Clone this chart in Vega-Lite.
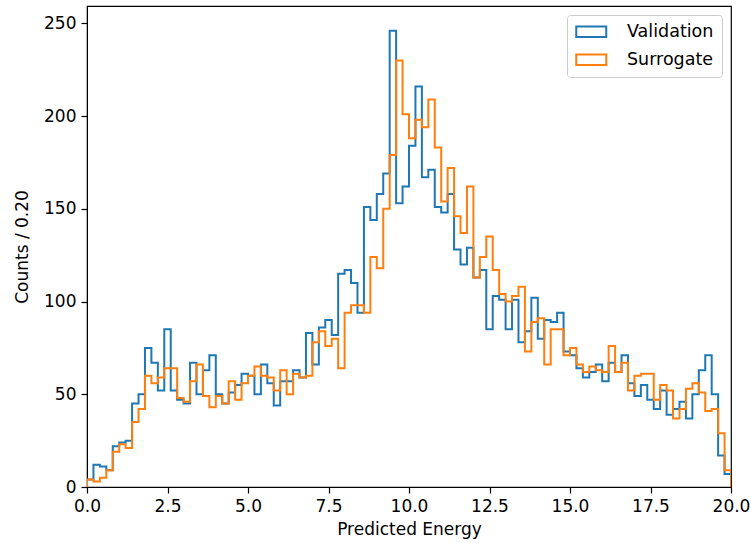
{
  "$schema": "https://vega.github.io/schema/vega-lite/v6.json",
  "autosize": {"type": "none"},
  "width": 644,
  "height": 481,
  "padding": {"left": 87, "top": 6, "right": 20, "bottom": 56},
  "background": "white",
  "config": {
    "font": "DejaVu Sans",
    "view": {"stroke": "black", "strokeWidth": 1.2},
    "axis": {
      "labelFont": "DejaVu Sans",
      "titleFont": "DejaVu Sans",
      "labelFontSize": 17,
      "titleFontSize": 17,
      "titleFontWeight": "normal",
      "labelColor": "black",
      "titleColor": "black",
      "tickColor": "black",
      "domainColor": "black",
      "tickSize": 6,
      "tickWidth": 1.2,
      "labelPadding": 5,
      "labelFlush": false,
      "grid": false
    },
    "legend": {
      "labelFont": "DejaVu Sans",
      "labelFontSize": 17.5
    }
  },
  "data": {
    "values": [
      {"series":"Validation","edge":0,"count":0},
      {"series":"Validation","edge":0.2,"count":4},{"series":"Validation","edge":0.4,"count":12},{"series":"Validation","edge":0.6,"count":11},{"series":"Validation","edge":0.8,"count":9},{"series":"Validation","edge":1,"count":22},{"series":"Validation","edge":1.2,"count":24},{"series":"Validation","edge":1.4,"count":25},{"series":"Validation","edge":1.6,"count":45},{"series":"Validation","edge":1.8,"count":50},{"series":"Validation","edge":2,"count":75},
      {"series":"Validation","edge":2.2,"count":67},{"series":"Validation","edge":2.4,"count":52},{"series":"Validation","edge":2.6,"count":85},{"series":"Validation","edge":2.8,"count":52},{"series":"Validation","edge":3,"count":47},{"series":"Validation","edge":3.2,"count":45},{"series":"Validation","edge":3.4,"count":67},{"series":"Validation","edge":3.6,"count":50},{"series":"Validation","edge":3.8,"count":63},{"series":"Validation","edge":4,"count":71},
      {"series":"Validation","edge":4.2,"count":50},{"series":"Validation","edge":4.4,"count":45},{"series":"Validation","edge":4.6,"count":51},{"series":"Validation","edge":4.8,"count":55},{"series":"Validation","edge":5,"count":61},{"series":"Validation","edge":5.2,"count":60},{"series":"Validation","edge":5.4,"count":50},{"series":"Validation","edge":5.6,"count":66},{"series":"Validation","edge":5.8,"count":56},{"series":"Validation","edge":6,"count":44},
      {"series":"Validation","edge":6.2,"count":57},{"series":"Validation","edge":6.4,"count":57},{"series":"Validation","edge":6.6,"count":63},{"series":"Validation","edge":6.8,"count":59},{"series":"Validation","edge":7,"count":83},{"series":"Validation","edge":7.2,"count":66},{"series":"Validation","edge":7.4,"count":86},{"series":"Validation","edge":7.6,"count":90},{"series":"Validation","edge":7.8,"count":82},{"series":"Validation","edge":8,"count":115},
      {"series":"Validation","edge":8.2,"count":117},{"series":"Validation","edge":8.4,"count":110},{"series":"Validation","edge":8.6,"count":94},{"series":"Validation","edge":8.8,"count":151},{"series":"Validation","edge":9,"count":144},{"series":"Validation","edge":9.2,"count":158},{"series":"Validation","edge":9.4,"count":169},{"series":"Validation","edge":9.6,"count":246},{"series":"Validation","edge":9.8,"count":153},{"series":"Validation","edge":10,"count":162},
      {"series":"Validation","edge":10.2,"count":184},{"series":"Validation","edge":10.4,"count":216},{"series":"Validation","edge":10.6,"count":167},{"series":"Validation","edge":10.8,"count":171},{"series":"Validation","edge":11,"count":151},{"series":"Validation","edge":11.2,"count":148},{"series":"Validation","edge":11.4,"count":158},{"series":"Validation","edge":11.6,"count":128},{"series":"Validation","edge":11.8,"count":120},{"series":"Validation","edge":12,"count":129},
      {"series":"Validation","edge":12.2,"count":113},{"series":"Validation","edge":12.4,"count":117},{"series":"Validation","edge":12.6,"count":85},{"series":"Validation","edge":12.8,"count":103},{"series":"Validation","edge":13,"count":101},{"series":"Validation","edge":13.2,"count":85},{"series":"Validation","edge":13.4,"count":101},{"series":"Validation","edge":13.6,"count":78},{"series":"Validation","edge":13.8,"count":84},{"series":"Validation","edge":14,"count":102},
      {"series":"Validation","edge":14.2,"count":80},{"series":"Validation","edge":14.4,"count":90},{"series":"Validation","edge":14.6,"count":89},{"series":"Validation","edge":14.8,"count":94},{"series":"Validation","edge":15,"count":73},{"series":"Validation","edge":15.2,"count":71},{"series":"Validation","edge":15.4,"count":64},{"series":"Validation","edge":15.6,"count":59},{"series":"Validation","edge":15.8,"count":62},{"series":"Validation","edge":16,"count":66},
      {"series":"Validation","edge":16.2,"count":57},{"series":"Validation","edge":16.4,"count":67},{"series":"Validation","edge":16.6,"count":62},{"series":"Validation","edge":16.8,"count":71},{"series":"Validation","edge":17,"count":56},{"series":"Validation","edge":17.2,"count":49},{"series":"Validation","edge":17.4,"count":55},{"series":"Validation","edge":17.6,"count":47},{"series":"Validation","edge":17.8,"count":42},{"series":"Validation","edge":18,"count":52},
      {"series":"Validation","edge":18.2,"count":39},{"series":"Validation","edge":18.4,"count":42},{"series":"Validation","edge":18.6,"count":46},{"series":"Validation","edge":18.8,"count":37},{"series":"Validation","edge":19,"count":50},{"series":"Validation","edge":19.2,"count":63},{"series":"Validation","edge":19.4,"count":71},{"series":"Validation","edge":19.6,"count":50},{"series":"Validation","edge":19.8,"count":17},{"series":"Validation","edge":20,"count":7},
      {"series":"Validation","edge":20,"count":0},
      {"series":"Surrogate","edge":0,"count":0},
      {"series":"Surrogate","edge":0.2,"count":4},{"series":"Surrogate","edge":0.4,"count":3},{"series":"Surrogate","edge":0.6,"count":5},{"series":"Surrogate","edge":0.8,"count":9},{"series":"Surrogate","edge":1,"count":19},{"series":"Surrogate","edge":1.2,"count":23},{"series":"Surrogate","edge":1.4,"count":21},{"series":"Surrogate","edge":1.6,"count":35},{"series":"Surrogate","edge":1.8,"count":42},{"series":"Surrogate","edge":2,"count":60},
      {"series":"Surrogate","edge":2.2,"count":56},{"series":"Surrogate","edge":2.4,"count":59},{"series":"Surrogate","edge":2.6,"count":64},{"series":"Surrogate","edge":2.8,"count":64},{"series":"Surrogate","edge":3,"count":48},{"series":"Surrogate","edge":3.2,"count":46},{"series":"Surrogate","edge":3.4,"count":57},{"series":"Surrogate","edge":3.6,"count":66},{"series":"Surrogate","edge":3.8,"count":49},{"series":"Surrogate","edge":4,"count":43},
      {"series":"Surrogate","edge":4.2,"count":49},{"series":"Surrogate","edge":4.4,"count":45},{"series":"Surrogate","edge":4.6,"count":57},{"series":"Surrogate","edge":4.8,"count":47},{"series":"Surrogate","edge":5,"count":56},{"series":"Surrogate","edge":5.2,"count":60},{"series":"Surrogate","edge":5.4,"count":65},{"series":"Surrogate","edge":5.6,"count":60},{"series":"Surrogate","edge":5.8,"count":59},{"series":"Surrogate","edge":6,"count":52},
      {"series":"Surrogate","edge":6.2,"count":63},{"series":"Surrogate","edge":6.4,"count":50},{"series":"Surrogate","edge":6.6,"count":61},{"series":"Surrogate","edge":6.8,"count":59},{"series":"Surrogate","edge":7,"count":60},{"series":"Surrogate","edge":7.2,"count":78},{"series":"Surrogate","edge":7.4,"count":84},{"series":"Surrogate","edge":7.6,"count":76},{"series":"Surrogate","edge":7.8,"count":80},{"series":"Surrogate","edge":8,"count":64},
      {"series":"Surrogate","edge":8.2,"count":94},{"series":"Surrogate","edge":8.4,"count":98},{"series":"Surrogate","edge":8.6,"count":98},{"series":"Surrogate","edge":8.8,"count":94},{"series":"Surrogate","edge":9,"count":124},{"series":"Surrogate","edge":9.2,"count":118},{"series":"Surrogate","edge":9.4,"count":150},{"series":"Surrogate","edge":9.6,"count":179},{"series":"Surrogate","edge":9.8,"count":230},{"series":"Surrogate","edge":10,"count":201},
      {"series":"Surrogate","edge":10.2,"count":188},{"series":"Surrogate","edge":10.4,"count":198},{"series":"Surrogate","edge":10.6,"count":194},{"series":"Surrogate","edge":10.8,"count":209},{"series":"Surrogate","edge":11,"count":183},{"series":"Surrogate","edge":11.2,"count":154},{"series":"Surrogate","edge":11.4,"count":172},{"series":"Surrogate","edge":11.6,"count":146},{"series":"Surrogate","edge":11.8,"count":137},{"series":"Surrogate","edge":12,"count":162},
      {"series":"Surrogate","edge":12.2,"count":113},{"series":"Surrogate","edge":12.4,"count":124},{"series":"Surrogate","edge":12.6,"count":135},{"series":"Surrogate","edge":12.8,"count":117},{"series":"Surrogate","edge":13,"count":104},{"series":"Surrogate","edge":13.2,"count":100},{"series":"Surrogate","edge":13.4,"count":103},{"series":"Surrogate","edge":13.6,"count":108},{"series":"Surrogate","edge":13.8,"count":73},{"series":"Surrogate","edge":14,"count":89},
      {"series":"Surrogate","edge":14.2,"count":91},{"series":"Surrogate","edge":14.4,"count":66},{"series":"Surrogate","edge":14.6,"count":85},{"series":"Surrogate","edge":14.8,"count":85},{"series":"Surrogate","edge":15,"count":71},{"series":"Surrogate","edge":15.2,"count":75},{"series":"Surrogate","edge":15.4,"count":66},{"series":"Surrogate","edge":15.6,"count":62},{"series":"Surrogate","edge":15.8,"count":65},{"series":"Surrogate","edge":16,"count":63},
      {"series":"Surrogate","edge":16.2,"count":62},{"series":"Surrogate","edge":16.4,"count":76},{"series":"Surrogate","edge":16.6,"count":62},{"series":"Surrogate","edge":16.8,"count":67},{"series":"Surrogate","edge":17,"count":52},{"series":"Surrogate","edge":17.2,"count":60},{"series":"Surrogate","edge":17.4,"count":61},{"series":"Surrogate","edge":17.6,"count":61},{"series":"Surrogate","edge":17.8,"count":47},{"series":"Surrogate","edge":18,"count":55},
      {"series":"Surrogate","edge":18.2,"count":52},{"series":"Surrogate","edge":18.4,"count":37},{"series":"Surrogate","edge":18.6,"count":42},{"series":"Surrogate","edge":18.8,"count":53},{"series":"Surrogate","edge":19,"count":56},{"series":"Surrogate","edge":19.2,"count":51},{"series":"Surrogate","edge":19.4,"count":41},{"series":"Surrogate","edge":19.6,"count":42},{"series":"Surrogate","edge":19.8,"count":29},{"series":"Surrogate","edge":20,"count":9},
      {"series":"Surrogate","edge":20,"count":0}
    ]
  },
  "mark": {"type": "line", "interpolate": "step-before", "strokeWidth": 2, "clip": true},
  "encoding": {
    "x": {
      "field": "edge",
      "type": "quantitative",
      "scale": {"domain": [0, 20], "nice": false, "zero": false},
      "axis": {"values": [0, 2.5, 5, 7.5, 10, 12.5, 15, 17.5, 20], "format": ".1f", "title": "Predicted Energy", "titlePadding": 7}
    },
    "y": {
      "field": "count",
      "type": "quantitative",
      "scale": {"domain": [0, 259.35], "nice": false},
      "axis": {"values": [0, 50, 100, 150, 200, 250], "title": "Counts / 0.20", "titlePadding": 12}
    },
    "color": {
      "field": "series",
      "type": "nominal",
      "scale": {"domain": ["Validation", "Surrogate"], "range": ["#1f77b4", "#ff7f0e"]},
      "legend": {
        "title": null,
        "orient": "top-right",
        "offset": 9,
        "padding": 8,
        "fillColor": "white",
        "strokeColor": "#cccccc",
        "cornerRadius": 3,
        "symbolType": "M-2,-0.7H2V0.7H-2Z",
        "symbolSize": 225,
        "symbolOffset": 7.5,
        "symbolStrokeWidth": 2,
        "symbolFillColor": "transparent",
        "labelOffset": 27,
        "rowPadding": 9
      }
    },
    "order": {"value": null}
  }
}
